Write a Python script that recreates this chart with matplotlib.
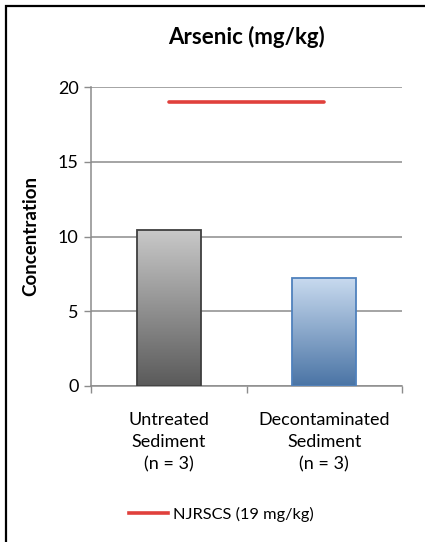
import numpy as np
import matplotlib
matplotlib.use("Agg")
import matplotlib.pyplot as plt
from matplotlib.colors import LinearSegmentedColormap
from matplotlib.patches import Rectangle
from matplotlib.lines import Line2D

categories = ["Untreated\nSediment\n(n = 3)", "Decontaminated\nSediment\n(n = 3)"]
concentrations = [10.45, 7.2]
standard_value = 19
standard_label = "NJRSCS (19 mg/kg)"
y_ticks = [0, 5, 10, 15, 20]

plt.rcParams["font.family"] = ["Lato", "DejaVu Sans"]

fig = plt.figure(figsize=(4.25, 5.42), dpi=100)
ax = fig.add_axes([91 / 425, 1 - 386 / 542, 311 / 425, 299 / 542])

x = np.arange(len(categories))
bars = ax.bar(x, concentrations, width=0.41, zorder=3)

# gradient fills, light at top, dark at bottom
gradients = [
    (["#5a5a5a", "#c9c9c9"], "#3f3f3f"),
    (["#4a74a5", "#c8daef"], "#4f81bd"),
]
grad = np.linspace(0, 1, 256).reshape(-1, 1)
for bar, (cols, edge) in zip(bars, gradients):
    bar.set_facecolor("none")
    bar.set_edgecolor(edge)
    bar.set_linewidth(1.3)
    cmap = LinearSegmentedColormap.from_list("g", cols)
    bx, bw, bh = bar.get_x(), bar.get_width(), bar.get_height()
    im = ax.imshow(grad, cmap=cmap, aspect="auto", origin="lower",
                   extent=[bx, bx + bw, 0, bh], zorder=2)
    im.set_clip_path(bar)

ax.plot([x[0], x[-1]], [standard_value, standard_value], color="#e0403c",
        lw=2.6, solid_capstyle="round", zorder=4)

ax.set_xlim(-0.5, 1.5)
ax.set_ylim(0, 20)
ax.set_yticks(y_ticks)
ax.set_xticks([-0.5, 0.5, 1.5])
ax.set_xticklabels([])
ax.set_xticks(x, minor=True)
ax.set_xticklabels(categories, minor=True, fontsize=13, linespacing=1.45)
ax.tick_params(axis="x", which="minor", length=0, pad=19)
ax.tick_params(axis="x", which="major", length=5, color="#8c8c8c", width=1)
ax.tick_params(axis="y", length=5, color="#8c8c8c", width=1, labelsize=13, pad=4)
ax.grid(axis="y", color="#8c8c8c", lw=1.1, zorder=1)
for s in ["top", "right"]:
    ax.spines[s].set_visible(False)
for s in ["left", "bottom"]:
    ax.spines[s].set_color("#8c8c8c")
    ax.spines[s].set_linewidth(1.1)

ax.set_title("Arsenic (mg/kg)", fontsize=16, fontweight="bold", pad=31)
ax.set_ylabel("Concentration", fontsize=13.5, fontweight="bold", labelpad=13)

handle = Line2D([], [], color="#e0403c", lw=2.6)
fig.legend([handle], [standard_label], loc="center", bbox_to_anchor=(221 / 425, 1 - 514 / 542),
           frameon=False, fontsize=11.8, handlelength=2.4, handletextpad=0.3)

# chart frame (only top and left edges visible in the crop)
fig.patches.append(Rectangle((6 / 425, -0.1), 1.2, 0.1 + 1 - 6 / 542,
                             transform=fig.transFigure, fill=False,
                             edgecolor="black", lw=1.6))

fig.savefig("out.png", dpi=100)
